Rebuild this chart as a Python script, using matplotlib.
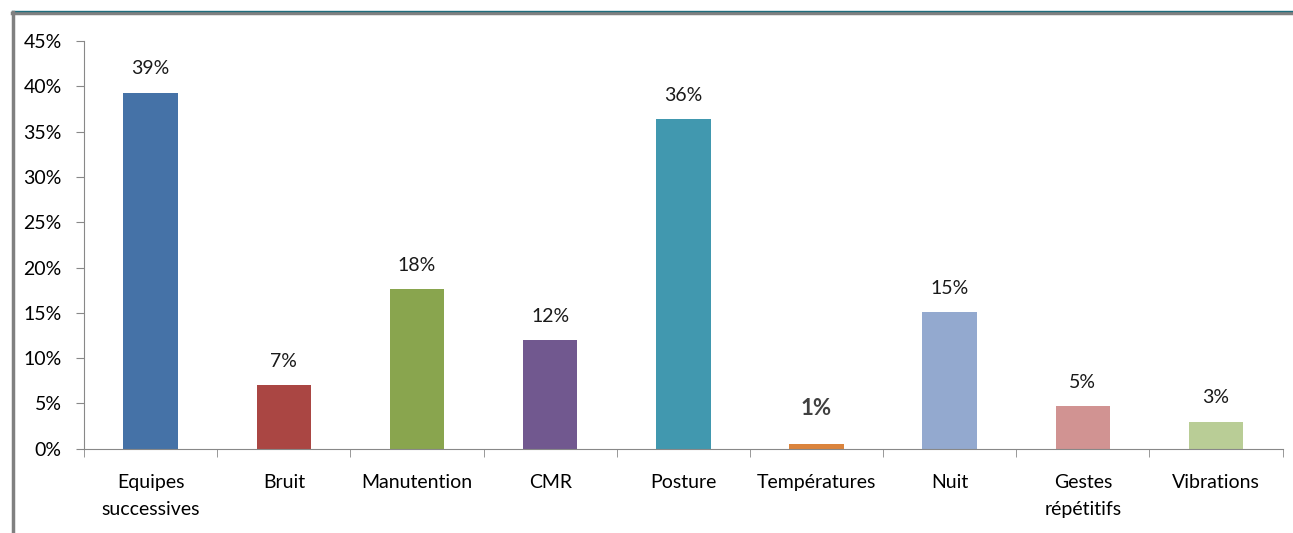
import numpy as np
import matplotlib
matplotlib.use("Agg")
from matplotlib import pyplot as plt
from matplotlib.lines import Line2D

categories = ["Equipes\nsuccessives", "Bruit", "Manutention", "CMR", "Posture",
              "Températures", "Nuit", "Gestes\nrépétitifs", "Vibrations"]
values = [39.3, 7.0, 17.6, 12.0, 36.4, 0.55, 15.1, 4.7, 3.0]
labels = ["39%", "7%", "18%", "12%", "36%", "1%", "15%", "5%", "3%"]
colors = ["#4572A7", "#AA4643", "#89A54E", "#71588F", "#4198AF",
          "#DB843D", "#93A9CF", "#D19392", "#B9CD96"]
yticks = [0, 5, 10, 15, 20, 25, 30, 35, 40, 45]

plt.rcParams['font.family'] = ['Lato', 'DejaVu Sans']

fig = plt.figure(figsize=(12.93, 5.33), dpi=100)
ax = fig.add_axes([0.065, 0.158, 0.927, 0.765])

x = np.arange(len(categories))
ax.bar(x, values, width=0.41, color=colors)

for xi, v, lab in zip(x, values, labels):
    if lab == "1%":
        ax.text(xi, v + 2.7, lab, ha="center", va="bottom", fontsize=16,
                fontweight="bold", color="#404040")
    else:
        ax.text(xi, v + 1.7, lab, ha="center", va="bottom", fontsize=14,
                color="#1a1a1a")

ax.set_xlim(-0.5, len(categories) - 0.5)
ax.set_ylim(0, 45)
ax.set_yticks(yticks)
ax.set_yticklabels([f"{t}%" for t in yticks], fontsize=14)
ax.set_xticks(x)
ax.set_xticklabels(categories, fontsize=14, linespacing=1.7)
ax.tick_params(axis="x", length=0, pad=18)
ax.set_xticks(np.arange(len(categories) + 1) - 0.5, minor=True)
ax.tick_params(axis="x", which="minor", length=6, color="#888888")
ax.tick_params(axis="y", length=6, color="#888888", pad=10)

for s in ["top", "right"]:
    ax.spines[s].set_visible(False)
for s in ["left", "bottom"]:
    ax.spines[s].set_color("#888888")

# outer frame
fig.add_artist(Line2D([0.009, 1.0], [0.976, 0.976], transform=fig.transFigure,
                      color="#808080", linewidth=2.5))
fig.add_artist(Line2D([0.009, 1.0], [0.979, 0.979], transform=fig.transFigure,
                      color="#1f6e7e", linewidth=1))
fig.add_artist(Line2D([0.0097, 0.0097], [0.0, 0.977], transform=fig.transFigure,
                      color="#808080", linewidth=2.5))

fig.savefig("out.png", dpi=100)
